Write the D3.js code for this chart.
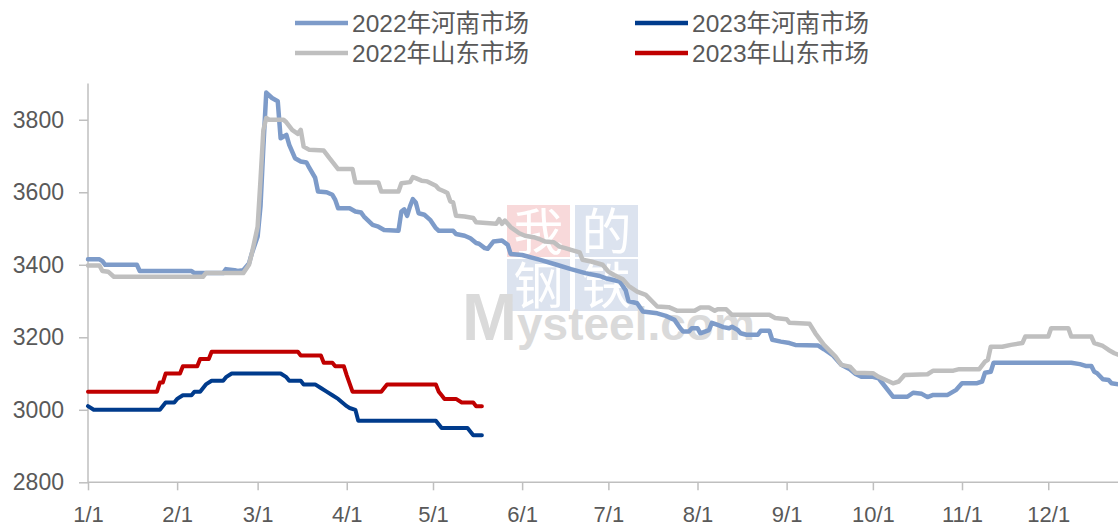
<!DOCTYPE html>
<html>
<head>
<meta charset="utf-8">
<script src="https://cdn.jsdelivr.net/npm/d3@7"></script>
<style>
  body { margin: 0; background: #fff; }
  svg { display: block; font-family: "Liberation Sans", "Noto Sans CJK SC", sans-serif; }
</style>
</head>
<body>
<div id="chart"></div>
<script>
const width = 1118;
const height = 527;

// séries : [date M/D, prix]
const henan2022 = [
  ["1/1",3415],["1/5",3415],["1/6",3410],["1/7",3400],["1/18",3400],["1/19",3383],["2/6",3383],
  ["2/7",3377],["2/17",3377],["2/18",3388],["2/21",3385],["2/22",3383],["2/24",3385],["2/26",3404],
  ["2/27",3432],["3/1",3478],["3/2",3561],["3/3",3726],["3/4",3875],["3/6",3860],["3/8",3851],
  ["3/9",3749],["3/11",3758],["3/12",3731],["3/14",3694],["3/16",3685],["3/18",3682],["3/19",3667],
  ["3/21",3640],["3/22",3602],["3/25",3600],["3/27",3593],["3/28",3579],["3/29",3556],["4/2",3556],
  ["4/4",3547],["4/6",3544],["4/7",3533],["4/10",3510],["4/12",3505],["4/14",3496],["4/19",3494],
  ["4/20",3547],["4/21",3553],["4/22",3535],["4/23",3561],["4/24",3581],["4/25",3572],["4/26",3542],
  ["4/28",3538],["4/30",3524],["5/2",3501],["5/3",3494],["5/8",3494],["5/9",3485],["5/12",3480],
  ["5/14",3473],["5/16",3460],["5/17",3458],["5/19",3446],["5/20",3444],["5/22",3464],["5/25",3467],
  ["5/27",3455],["5/28",3430],["6/1",3427],["6/7",3414],["6/13",3400],["6/18",3388],["6/23",3377],
  ["6/28",3369],["6/30",3363],["7/5",3354],["7/7",3330],["7/8",3300],["7/11",3294],["7/13",3271],
  ["7/18",3266],["7/21",3259],["7/24",3248],["7/26",3225],["7/27",3216],["7/29",3216],["7/30",3225],
  ["8/1",3225],["8/2",3211],["8/5",3220],["8/6",3240],["8/8",3234],["8/10",3228],["8/12",3225],
  ["8/13",3229],["8/15",3220],["8/16",3211],["8/18",3207],["8/22",3207],["8/23",3218],["8/26",3218],
  ["8/27",3193],["8/30",3188],["9/2",3184],["9/4",3179],["9/12",3177],["9/14",3167],["9/17",3151],
  ["9/20",3124],["9/23",3112],["9/25",3099],["9/27",3091],["10/1",3091],["10/3",3087],["10/8",3036],
  ["10/13",3036],["10/15",3047],["10/18",3044],["10/20",3035],["10/22",3041],["10/27",3041],
  ["10/30",3055],["11/1",3073],["11/6",3073],["11/8",3078],["11/9",3102],["11/11",3105],["11/12",3130],
  ["12/9",3130],["12/12",3126],["12/14",3121],["12/16",3121],["12/17",3105],["12/18",3101],
  ["12/20",3084],["12/22",3082],["12/23",3073],["12/26",3070]
];

const shandong2022 = [
  ["1/1",3398],["1/5",3398],["1/6",3383],["1/8",3381],["1/10",3367],["2/10",3367],["2/11",3377],
  ["2/24",3377],["2/26",3400],["2/27",3432],["3/1",3505],["3/2",3634],["3/3",3772],["3/4",3805],
  ["3/5",3800],["3/10",3800],["3/11",3793],["3/13",3772],["3/15",3761],["3/16",3772],["3/17",3726],
  ["3/19",3717],["3/24",3715],["3/26",3694],["3/29",3664],["4/3",3664],["4/4",3627],["4/12",3627],
  ["4/13",3602],["4/19",3602],["4/20",3625],["4/23",3628],["4/24",3642],["4/25",3639],["4/27",3632],
  ["4/29",3630],["5/2",3618],["5/3",3609],["5/5",3602],["5/6",3598],["5/7",3575],["5/8",3572],
  ["5/9",3535],["5/12",3533],["5/15",3529],["5/16",3517],["5/23",3513],["5/24",3526],["5/25",3513],
  ["5/26",3522],["5/28",3504],["5/31",3487],["6/2",3480],["6/5",3476],["6/7",3471],["6/9",3464],
  ["6/12",3462],["6/14",3450],["6/16",3446],["6/18",3441],["6/21",3434],["6/22",3414],["6/25",3409],
  ["6/29",3400],["7/1",3381],["7/3",3372],["7/6",3360],["7/8",3342],["7/11",3326],["7/14",3317],
  ["7/18",3285],["7/22",3283],["7/25",3273],["7/31",3273],["8/2",3282],["8/5",3282],["8/7",3273],
  ["8/8",3277],["8/11",3277],["8/13",3262],["8/26",3262],["8/28",3253],["9/1",3250],["9/2",3240],
  ["9/9",3237],["9/11",3211],["9/14",3179],["9/18",3147],["9/20",3124],["9/23",3119],["9/25",3102],
  ["10/1",3101],["10/3",3091],["10/8",3073],["10/10",3078],["10/12",3096],["10/20",3098],
  ["10/22",3108],["10/29",3108],["10/31",3112],["11/7",3112],["11/9",3133],["11/10",3138],
  ["11/11",3174],["11/15",3174],["11/18",3179],["11/22",3184],["11/23",3202],["12/1",3202],
  ["12/2",3225],["12/8",3225],["12/9",3202],["12/16",3202],["12/17",3184],["12/20",3176],
  ["12/22",3165],["12/24",3156],["12/26",3150]
];

const henan2023 = [
  ["1/1",3010],["1/3",3000],["1/26",3000],["1/28",3020],["1/31",3020],["2/1",3030],["2/3",3040],
  ["2/6",3040],["2/7",3050],["2/9",3050],["2/11",3070],["2/13",3080],["2/17",3080],["2/18",3090],
  ["2/20",3100],["3/9",3100],["3/11",3090],["3/12",3080],["3/16",3080],["3/17",3070],["3/21",3070],
  ["3/23",3060],["3/25",3050],["3/27",3040],["3/29",3030],["4/1",3010],["4/2",3005],["4/4",3000],
  ["4/5",2970],["5/2",2970],["5/4",2950],["5/13",2950],["5/15",2930],["5/18",2930]
];

const shandong2023 = [
  ["1/1",3050],["1/25",3050],["1/26",3075],["1/27",3075],["1/28",3100],["2/2",3100],["2/3",3120],
  ["2/8",3120],["2/9",3140],["2/12",3140],["2/13",3160],["3/15",3160],["3/16",3150],["3/23",3150],
  ["3/24",3130],["3/27",3130],["3/28",3120],["3/31",3120],["4/1",3095],["4/3",3050],["4/13",3050],
  ["4/15",3070],["5/2",3070],["5/3",3050],["5/4",3040],["5/5",3030],["5/9",3030],["5/11",3020],
  ["5/15",3020],["5/16",3010],["5/18",3010]
];

const yTicks = [2800, 3000, 3200, 3400, 3600, 3800];

const series = [
  { name: "2022年河南市场", data: henan2022, color: "#7D9BC9", w: 4.5 },
  { name: "2023年河南市场", data: henan2023, color: "#003B8C", w: 4 },
  { name: "2022年山东市场", data: shandong2022, color: "#BFBFBF", w: 4.5 },
  { name: "2023年山东市场", data: shandong2023, color: "#C00000", w: 4 }
];

const parseMD = s => d3.timeParse("%Y/%m/%d")("2022/" + s);

const x = d3.scaleTime()
  .domain([new Date(2022, 0, 1), new Date(2022, 11, 31)])
  .range([88, 88 + 364 * 2.875]);

const y = d3.scaleLinear()
  .domain([2800, 3900])
  .range([482.3, 83.5]);

const svg = d3.select("#chart")
  .append("svg")
  .attr("width", width)
  .attr("height", height);

// filigrane Mysteel
const wm = svg.append("g").attr("class", "watermark");
const tiles = [
  { t: "我", x: 507, y: 205, c: "#F8D9DA" },
  { t: "的", x: 575, y: 205, c: "#DCE3EF" },
  { t: "钢", x: 507, y: 259, c: "#DCE3EF" },
  { t: "铁", x: 575, y: 259, c: "#DCE3EF" }
];
wm.selectAll("rect").data(tiles).enter().append("rect")
  .attr("x", d => d.x).attr("y", d => d.y)
  .attr("width", 63).attr("height", 52)
  .attr("fill", d => d.c);
wm.selectAll("text.tile").data(tiles).enter().append("text")
  .attr("class", "tile")
  .attr("x", d => d.x + 31.5).attr("y", d => d.y + 45)
  .attr("text-anchor", "middle")
  .attr("font-family", "Noto Sans CJK SC")
  .attr("font-size", 50)
  .attr("fill", "#fff")
  .text(d => d.t);
const logo = wm.append("text")
  .attr("x", 462).attr("y", 340)
  .attr("fill", "#DADADA")
  .attr("font-family", "Liberation Sans")
  .attr("font-weight", "bold");
logo.append("tspan").attr("font-size", 66).text("M");
logo.append("tspan").attr("font-size", 46).text("ysteel.com");

// axes
const axisColor = "#BFBFBF";
const textColor = "#595959";

const yAxis = svg.append("g")
  .attr("transform", "translate(88,0)")
  .call(d3.axisLeft(y).tickValues(yTicks).tickSize(9).tickPadding(15).tickFormat(d3.format("d")));
yAxis.select(".domain").attr("stroke", axisColor).attr("stroke-width", 1.5).attr("d", `M0,${y(2800)}V${y(3900)}`);
yAxis.selectAll(".tick line").attr("stroke", axisColor).attr("stroke-width", 1.5);
yAxis.selectAll(".tick text")
  .attr("fill", textColor)
  .attr("font-size", 23)
  .attr("font-family", "Liberation Sans");

const xAxis = svg.append("g")
  .attr("transform", `translate(0,${y(2800)})`)
  .call(d3.axisBottom(x)
    .tickValues(d3.timeMonth.range(new Date(2022, 0, 1), new Date(2022, 11, 31)))
    .tickSize(8).tickPadding(16)
    .tickFormat(d3.timeFormat("%-m/%-d")));
xAxis.select(".domain").attr("stroke", axisColor).attr("stroke-width", 1.5).attr("d", `M88,0H${width + 20}`);
xAxis.selectAll(".tick line").attr("stroke", axisColor).attr("stroke-width", 1.5);
xAxis.selectAll(".tick text")
  .attr("fill", textColor)
  .attr("font-size", 22)
  .attr("font-family", "Liberation Sans");

// courbes
const line = d3.line()
  .x(d => x(parseMD(d[0])))
  .y(d => y(d[1]));

svg.append("g")
  .selectAll("path")
  .data([series[0], series[2], series[1], series[3]])
  .enter()
  .append("path")
  .attr("d", d => line(d.data))
  .attr("fill", "none")
  .attr("stroke", d => d.color)
  .attr("stroke-width", d => d.w)
  .attr("stroke-linejoin", "round")
  .attr("stroke-linecap", "round");

// légende
const legendPos = [[295, 23], [635, 23], [295, 53], [635, 53]];
const legend = svg.append("g")
  .selectAll("g")
  .data(series)
  .enter()
  .append("g")
  .attr("transform", (d, i) => `translate(${legendPos[i][0]},${legendPos[i][1]})`);

legend.append("line")
  .attr("x1", 0).attr("x2", 53)
  .attr("stroke", d => d.color)
  .attr("stroke-width", 4.5);

legend.append("text")
  .attr("x", 57)
  .attr("dy", "0.36em")
  .attr("font-size", 24.5)
  .attr("fill", textColor)
  .text(d => d.name);
</script>
</body>
</html>
